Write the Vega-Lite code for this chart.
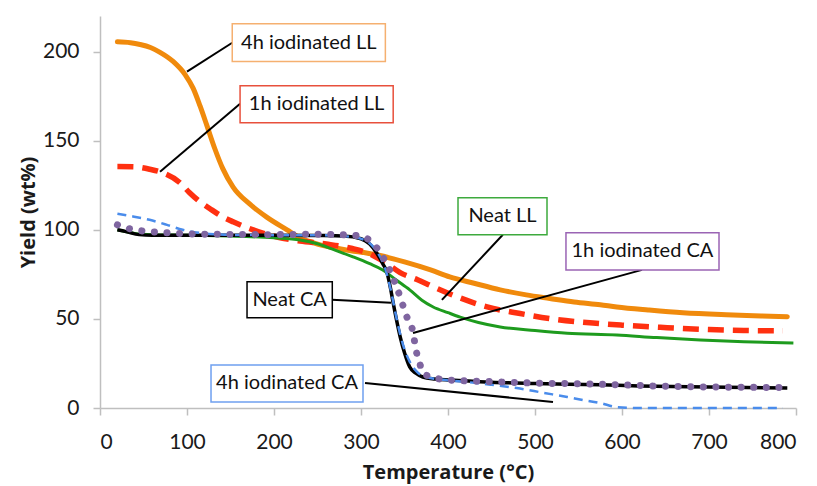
{
  "$schema": "https://vega.github.io/schema/vega-lite/v6.json",
  "width": 696,
  "height": 392,
  "autosize": {"type": "none"},
  "padding": {"left": 100, "top": 16, "right": 21, "bottom": 78},
  "background": "white",
  "config": {
    "view": {"stroke": null},
    "line": {"interpolate": "monotone"},
    "axis": {
      "grid": false,
      "domainColor": "#BFBFBF",
      "domainWidth": 1.5,
      "tickColor": "#BFBFBF",
      "tickWidth": 1.5,
      "tickSize": 7,
      "labelFont": "Lato",
      "labelFontSize": 21,
      "labelColor": "#1a1a1a",
      "titleFont": "Open Sans",
      "titleFontSize": 20,
      "titleFontWeight": "bold",
      "titleColor": "#1a1a1a"
    }
  },
  "datasets": {
    "curves": [
      {"s": "4hLL", "T": 20, "Y": 205.5}, {"s": "4hLL", "T": 35, "Y": 205}, {"s": "4hLL", "T": 46, "Y": 204}, {"s": "4hLL", "T": 58, "Y": 202.3}, {"s": "4hLL", "T": 69, "Y": 199.6}, {"s": "4hLL", "T": 84, "Y": 194.5}, {"s": "4hLL", "T": 98, "Y": 187}, {"s": "4hLL", "T": 107, "Y": 179.5}, {"s": "4hLL", "T": 115, "Y": 169.5}, {"s": "4hLL", "T": 123, "Y": 158.3}, {"s": "4hLL", "T": 132, "Y": 145.5}, {"s": "4hLL", "T": 141, "Y": 134.5}, {"s": "4hLL", "T": 153, "Y": 124}, {"s": "4hLL", "T": 172, "Y": 114.5}, {"s": "4hLL", "T": 192, "Y": 107}, {"s": "4hLL", "T": 215, "Y": 100}, {"s": "4hLL", "T": 230, "Y": 95.5}, {"s": "4hLL", "T": 250, "Y": 92}, {"s": "4hLL", "T": 280, "Y": 89}, {"s": "4hLL", "T": 318, "Y": 86}, {"s": "4hLL", "T": 350, "Y": 82}, {"s": "4hLL", "T": 380, "Y": 77.5}, {"s": "4hLL", "T": 402, "Y": 73.6}, {"s": "4hLL", "T": 430, "Y": 70}, {"s": "4hLL", "T": 460, "Y": 66.3}, {"s": "4hLL", "T": 490, "Y": 63.5}, {"s": "4hLL", "T": 517, "Y": 61.5}, {"s": "4hLL", "T": 545, "Y": 59.5}, {"s": "4hLL", "T": 575, "Y": 57.9}, {"s": "4hLL", "T": 594, "Y": 56.7}, {"s": "4hLL", "T": 630, "Y": 55}, {"s": "4hLL", "T": 670, "Y": 53.4}, {"s": "4hLL", "T": 720, "Y": 52.3}, {"s": "4hLL", "T": 760, "Y": 51.7}, {"s": "4hLL", "T": 790, "Y": 51.2},
      {"s": "1hLL", "T": 20, "Y": 135.5}, {"s": "1hLL", "T": 38, "Y": 135.4}, {"s": "1hLL", "T": 57, "Y": 134}, {"s": "1hLL", "T": 72, "Y": 132}, {"s": "1hLL", "T": 92, "Y": 126.4}, {"s": "1hLL", "T": 103, "Y": 120.8}, {"s": "1hLL", "T": 115, "Y": 115.7}, {"s": "1hLL", "T": 126, "Y": 112}, {"s": "1hLL", "T": 141, "Y": 107.3}, {"s": "1hLL", "T": 153, "Y": 104.5}, {"s": "1hLL", "T": 176, "Y": 100}, {"s": "1hLL", "T": 192, "Y": 97.5}, {"s": "1hLL", "T": 210, "Y": 95.3}, {"s": "1hLL", "T": 230, "Y": 93.7}, {"s": "1hLL", "T": 260, "Y": 92}, {"s": "1hLL", "T": 290, "Y": 89.5}, {"s": "1hLL", "T": 310, "Y": 86.5}, {"s": "1hLL", "T": 330, "Y": 81}, {"s": "1hLL", "T": 345, "Y": 76}, {"s": "1hLL", "T": 365, "Y": 72}, {"s": "1hLL", "T": 383, "Y": 68}, {"s": "1hLL", "T": 410, "Y": 62.5}, {"s": "1hLL", "T": 445, "Y": 56.7}, {"s": "1hLL", "T": 483, "Y": 53}, {"s": "1hLL", "T": 520, "Y": 50}, {"s": "1hLL", "T": 563, "Y": 47.8}, {"s": "1hLL", "T": 600, "Y": 46.5}, {"s": "1hLL", "T": 644, "Y": 45.3}, {"s": "1hLL", "T": 700, "Y": 44}, {"s": "1hLL", "T": 740, "Y": 43.5}, {"s": "1hLL", "T": 785, "Y": 43.3},
      {"s": "NeatLL", "T": 20, "Y": 100}, {"s": "NeatLL", "T": 40, "Y": 98}, {"s": "NeatLL", "T": 60, "Y": 97.3}, {"s": "NeatLL", "T": 100, "Y": 97}, {"s": "NeatLL", "T": 150, "Y": 96.5}, {"s": "NeatLL", "T": 200, "Y": 95.5}, {"s": "NeatLL", "T": 230, "Y": 94.3}, {"s": "NeatLL", "T": 250, "Y": 92.2}, {"s": "NeatLL", "T": 268, "Y": 89}, {"s": "NeatLL", "T": 290, "Y": 85}, {"s": "NeatLL", "T": 310, "Y": 81}, {"s": "NeatLL", "T": 325, "Y": 77.5}, {"s": "NeatLL", "T": 340, "Y": 72}, {"s": "NeatLL", "T": 356, "Y": 66.3}, {"s": "NeatLL", "T": 370, "Y": 60.5}, {"s": "NeatLL", "T": 383, "Y": 56.7}, {"s": "NeatLL", "T": 400, "Y": 53.5}, {"s": "NeatLL", "T": 414, "Y": 51}, {"s": "NeatLL", "T": 435, "Y": 48}, {"s": "NeatLL", "T": 460, "Y": 45.5}, {"s": "NeatLL", "T": 500, "Y": 43.5}, {"s": "NeatLL", "T": 537, "Y": 42}, {"s": "NeatLL", "T": 594, "Y": 41}, {"s": "NeatLL", "T": 640, "Y": 39.5}, {"s": "NeatLL", "T": 690, "Y": 38.2}, {"s": "NeatLL", "T": 740, "Y": 37.2}, {"s": "NeatLL", "T": 797, "Y": 36.5},
      {"s": "NeatCA", "T": 20, "Y": 100}, {"s": "NeatCA", "T": 30, "Y": 99}, {"s": "NeatCA", "T": 45, "Y": 97.3}, {"s": "NeatCA", "T": 60, "Y": 97}, {"s": "NeatCA", "T": 100, "Y": 97}, {"s": "NeatCA", "T": 150, "Y": 97}, {"s": "NeatCA", "T": 200, "Y": 97}, {"s": "NeatCA", "T": 250, "Y": 96.8}, {"s": "NeatCA", "T": 280, "Y": 96.5}, {"s": "NeatCA", "T": 300, "Y": 95}, {"s": "NeatCA", "T": 310, "Y": 92}, {"s": "NeatCA", "T": 318, "Y": 87}, {"s": "NeatCA", "T": 325, "Y": 81}, {"s": "NeatCA", "T": 330, "Y": 75.8}, {"s": "NeatCA", "T": 334, "Y": 67}, {"s": "NeatCA", "T": 337, "Y": 59}, {"s": "NeatCA", "T": 341, "Y": 49}, {"s": "NeatCA", "T": 345, "Y": 40}, {"s": "NeatCA", "T": 350, "Y": 31}, {"s": "NeatCA", "T": 356, "Y": 23}, {"s": "NeatCA", "T": 363, "Y": 19.5}, {"s": "NeatCA", "T": 371, "Y": 17.4}, {"s": "NeatCA", "T": 385, "Y": 16.3}, {"s": "NeatCA", "T": 402, "Y": 15.7}, {"s": "NeatCA", "T": 450, "Y": 14.5}, {"s": "NeatCA", "T": 500, "Y": 13.8}, {"s": "NeatCA", "T": 575, "Y": 13}, {"s": "NeatCA", "T": 620, "Y": 12.4}, {"s": "NeatCA", "T": 700, "Y": 11.8}, {"s": "NeatCA", "T": 790, "Y": 11.2},
      {"s": "4hCA", "T": 20, "Y": 109}, {"s": "4hCA", "T": 38, "Y": 107.5}, {"s": "4hCA", "T": 57, "Y": 105.6}, {"s": "4hCA", "T": 77, "Y": 102.8}, {"s": "4hCA", "T": 95, "Y": 100}, {"s": "4hCA", "T": 115, "Y": 98.3}, {"s": "4hCA", "T": 150, "Y": 97.2}, {"s": "4hCA", "T": 200, "Y": 97}, {"s": "4hCA", "T": 250, "Y": 97}, {"s": "4hCA", "T": 290, "Y": 96}, {"s": "4hCA", "T": 305, "Y": 94}, {"s": "4hCA", "T": 318, "Y": 88}, {"s": "4hCA", "T": 328, "Y": 78}, {"s": "4hCA", "T": 335, "Y": 64.6}, {"s": "4hCA", "T": 341, "Y": 50}, {"s": "4hCA", "T": 348, "Y": 36}, {"s": "4hCA", "T": 356, "Y": 26}, {"s": "4hCA", "T": 365, "Y": 20}, {"s": "4hCA", "T": 375, "Y": 17.4}, {"s": "4hCA", "T": 400, "Y": 15.5}, {"s": "4hCA", "T": 421, "Y": 14.6}, {"s": "4hCA", "T": 450, "Y": 13}, {"s": "4hCA", "T": 479, "Y": 11.2}, {"s": "4hCA", "T": 510, "Y": 8.5}, {"s": "4hCA", "T": 537, "Y": 6.2}, {"s": "4hCA", "T": 555, "Y": 4.5}, {"s": "4hCA", "T": 575, "Y": 2.8}, {"s": "4hCA", "T": 594, "Y": 0.5}, {"s": "4hCA", "T": 620, "Y": 0}, {"s": "4hCA", "T": 700, "Y": 0}, {"s": "4hCA", "T": 785, "Y": 0},
      {"s": "1hCA", "T": 20, "Y": 102.8}, {"s": "1hCA", "T": 34, "Y": 100.6}, {"s": "1hCA", "T": 48, "Y": 99.4}, {"s": "1hCA", "T": 63, "Y": 98.8}, {"s": "1hCA", "T": 100, "Y": 97.8}, {"s": "1hCA", "T": 150, "Y": 97.4}, {"s": "1hCA", "T": 200, "Y": 97.3}, {"s": "1hCA", "T": 250, "Y": 97.5}, {"s": "1hCA", "T": 290, "Y": 97}, {"s": "1hCA", "T": 305, "Y": 95.5}, {"s": "1hCA", "T": 318, "Y": 90}, {"s": "1hCA", "T": 326, "Y": 84}, {"s": "1hCA", "T": 333, "Y": 77.5}, {"s": "1hCA", "T": 340, "Y": 69}, {"s": "1hCA", "T": 345, "Y": 62.4}, {"s": "1hCA", "T": 352, "Y": 52}, {"s": "1hCA", "T": 360, "Y": 42}, {"s": "1hCA", "T": 363, "Y": 33}, {"s": "1hCA", "T": 367, "Y": 26}, {"s": "1hCA", "T": 371, "Y": 20}, {"s": "1hCA", "T": 380, "Y": 17.5}, {"s": "1hCA", "T": 402, "Y": 15.7}, {"s": "1hCA", "T": 450, "Y": 14.8}, {"s": "1hCA", "T": 500, "Y": 14}, {"s": "1hCA", "T": 560, "Y": 13.5}, {"s": "1hCA", "T": 600, "Y": 13}, {"s": "1hCA", "T": 650, "Y": 12.2}, {"s": "1hCA", "T": 700, "Y": 11.8}, {"s": "1hCA", "T": 790, "Y": 11.5}
    ],
    "boxes": [
      {"label": "4h iodinated LL", "T1": 152, "T2": 328, "Y1": 194.4, "Y2": 215.7, "Tc": 240, "Yc": 205},
      {"label": "1h iodinated LL", "T1": 161, "T2": 337, "Y1": 160.1, "Y2": 180.9, "Tc": 249, "Yc": 170.5},
      {"label": "Neat LL", "T1": 411.5, "T2": 513.8, "Y1": 97.2, "Y2": 118, "Tc": 462.6, "Yc": 107.6},
      {"label": "1h iodinated CA", "T1": 535.6, "T2": 711.5, "Y1": 77.5, "Y2": 98.3, "Tc": 623.5, "Yc": 87.9},
      {"label": "Neat CA", "T1": 169, "T2": 267, "Y1": 50.6, "Y2": 70.8, "Tc": 218, "Yc": 60.7},
      {"label": "4h iodinated CA", "T1": 127.6, "T2": 302.3, "Y1": 3.4, "Y2": 24.2, "Tc": 215, "Yc": 13.8}
    ],
    "leaders": [
      {"label": "4h iodinated LL", "Ta": 152, "Ya": 205, "Tb": 100, "Yb": 188.8},
      {"label": "1h iodinated LL", "Ta": 161, "Ya": 170.8, "Tb": 69, "Yb": 132.6},
      {"label": "Neat LL", "Ta": 463, "Ya": 97.2, "Tb": 393, "Yb": 60.7},
      {"label": "1h iodinated CA", "Ta": 623, "Ya": 77.5, "Tb": 359.8, "Yb": 42.1},
      {"label": "Neat CA", "Ta": 266.7, "Ya": 60.7, "Tb": 334.5, "Yb": 59},
      {"label": "4h iodinated CA", "Ta": 304.6, "Ya": 14, "Tb": 520.7, "Yb": 3.4}
    ]
  },
  "layer": [
    {
      "data": {"name": "curves"},
      "transform": [{"filter": "datum.s === '4hLL'"}],
      "mark": {"type": "line", "color": "#F08A0C", "strokeWidth": 5, "strokeCap": "round"},
      "encoding": {
        "x": {"field": "T", "type": "quantitative", "scale": {"domain": [0, 800], "nice": false}, "axis": {"values": [0, 100, 200, 300, 400, 500, 600, 700, 800], "title": "Temperature (°C)", "labelPadding": 16, "titlePadding": 10}},
        "y": {"field": "Y", "type": "quantitative", "scale": {"domain": [0, 220], "nice": false}, "axis": {"values": [0, 50, 100, 150, 200], "title": "Yield (wt%)", "labelPadding": 14, "titlePadding": 4}},
        "order": {"field": "T", "type": "quantitative"}
      }
    },
    {
      "data": {"name": "curves"},
      "transform": [{"filter": "datum.s === '1hLL'"}],
      "mark": {"type": "line", "color": "#FF3010", "strokeWidth": 5.5, "strokeDash": [16, 9]},
      "encoding": {
        "x": {"field": "T", "type": "quantitative"},
        "y": {"field": "Y", "type": "quantitative"},
        "order": {"field": "T", "type": "quantitative"}
      }
    },
    {
      "data": {"name": "curves"},
      "transform": [{"filter": "datum.s === 'NeatLL'"}],
      "mark": {"type": "line", "color": "#1E9B1E", "strokeWidth": 3},
      "encoding": {
        "x": {"field": "T", "type": "quantitative"},
        "y": {"field": "Y", "type": "quantitative"},
        "order": {"field": "T", "type": "quantitative"}
      }
    },
    {
      "data": {"name": "curves"},
      "transform": [{"filter": "datum.s === 'NeatCA'"}],
      "mark": {"type": "line", "color": "#000000", "strokeWidth": 3.5},
      "encoding": {
        "x": {"field": "T", "type": "quantitative"},
        "y": {"field": "Y", "type": "quantitative"},
        "order": {"field": "T", "type": "quantitative"}
      }
    },
    {
      "data": {"name": "curves"},
      "transform": [{"filter": "datum.s === '4hCA'"}],
      "mark": {"type": "line", "color": "#4A8CEB", "strokeWidth": 2.5, "strokeDash": [9, 6]},
      "encoding": {
        "x": {"field": "T", "type": "quantitative"},
        "y": {"field": "Y", "type": "quantitative"},
        "order": {"field": "T", "type": "quantitative"}
      }
    },
    {
      "data": {"name": "curves"},
      "transform": [{"filter": "datum.s === '1hCA'"}],
      "mark": {"type": "line", "color": "#7F65A0", "strokeWidth": 7, "strokeCap": "round", "strokeDash": [0.1, 12.5]},
      "encoding": {
        "x": {"field": "T", "type": "quantitative"},
        "y": {"field": "Y", "type": "quantitative"},
        "order": {"field": "T", "type": "quantitative"}
      }
    },
    {
      "data": {"name": "leaders"},
      "mark": {"type": "rule", "color": "#000000", "strokeWidth": 2},
      "encoding": {
        "x": {"field": "Ta", "type": "quantitative"},
        "y": {"field": "Ya", "type": "quantitative"},
        "x2": {"field": "Tb"},
        "y2": {"field": "Yb"}
      }
    },
    {
      "data": {"name": "boxes"},
      "mark": {"type": "rect", "fill": "white", "strokeWidth": 1.5},
      "encoding": {
        "x": {"field": "T1", "type": "quantitative"},
        "x2": {"field": "T2"},
        "y": {"field": "Y1", "type": "quantitative"},
        "y2": {"field": "Y2"},
        "stroke": {"field": "label", "type": "nominal", "legend": null,
          "scale": {"domain": ["4h iodinated LL", "1h iodinated LL", "Neat LL", "1h iodinated CA", "Neat CA", "4h iodinated CA"],
                    "range": ["#F5B070", "#E8503C", "#3DAA3D", "#9A64B4", "#000000", "#6FA0F0"]}}
      }
    },
    {
      "data": {"name": "boxes"},
      "mark": {"type": "text", "font": "Lato", "fontSize": 20, "color": "#111111", "align": "center", "baseline": "middle"},
      "encoding": {
        "x": {"field": "Tc", "type": "quantitative"},
        "y": {"field": "Yc", "type": "quantitative"},
        "text": {"field": "label", "type": "nominal"}
      }
    }
  ]
}
